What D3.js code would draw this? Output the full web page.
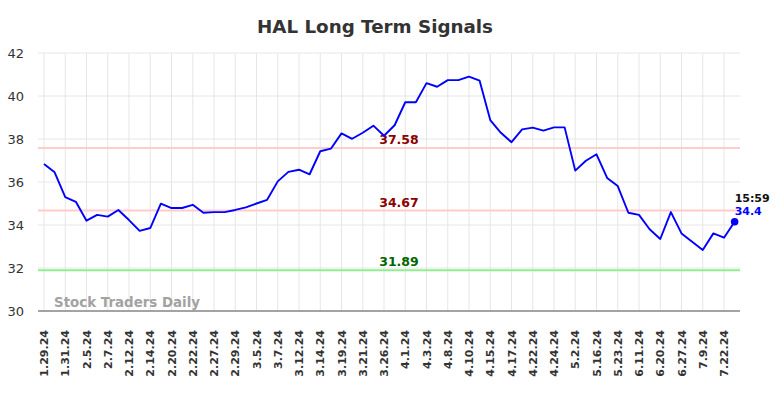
<!DOCTYPE html>
<html>
<head>
<meta charset="utf-8">
<script src="https://cdn.jsdelivr.net/npm/d3@7.9.0/dist/d3.min.js"></script>
<style>
  body { margin: 0; background: #fff; }
  svg { display: block; font-family: "DejaVu Sans", sans-serif; }
</style>
</head>
<body>
<div id="chart"></div>
<script>
// ---------- DATA ----------
const tickLabels = ["1.29.24","1.31.24","2.5.24","2.7.24","2.12.24","2.14.24","2.20.24","2.22.24",
  "2.27.24","2.29.24","3.5.24","3.7.24","3.12.24","3.14.24","3.19.24","3.21.24","3.26.24",
  "4.1.24","4.3.24","4.8.24","4.10.24","4.15.24","4.17.24","4.22.24","4.24.24","5.2.24",
  "5.16.24","5.23.24","6.11.24","6.20.24","6.27.24","7.9.24","7.22.24"];

const prices = [36.84, 36.45, 35.30, 35.08, 34.20, 34.47, 34.39, 34.70, 34.23, 33.73,
  33.86, 34.99, 34.79, 34.79, 34.94, 34.57, 34.60, 34.60, 34.70, 34.82,
  35.00, 35.17, 36.03, 36.47, 36.57, 36.36, 37.43, 37.55, 38.26, 38.01,
  38.29, 38.62, 38.15, 38.64, 39.71, 39.71, 40.60, 40.43, 40.74, 40.74,
  40.90, 40.71, 38.88, 38.29, 37.85, 38.45, 38.53, 38.39, 38.54, 38.54,
  36.53, 36.99, 37.29, 36.19, 35.81, 34.57, 34.47, 33.80, 33.35, 34.60,
  33.61, 33.22, 32.84, 33.61, 33.41, 34.15];

const levels = [
  { value: 37.58, line: "#ffcccc", text: "#8b0000" },
  { value: 34.67, line: "#ffcccc", text: "#8b0000" },
  { value: 31.89, line: "#90ee90", text: "#006400" }
];

const yTicks = [30, 32, 34, 36, 38, 40, 42];
const lastTime = "15:59";
const lastLabel = "34.4";

// ---------- LAYOUT ----------
const width = 784, height = 398;
const plotLeft = 38, plotRight = 740, plotTop = 53, plotBottom = 311;

const svg = d3.select("#chart").append("svg")
  .attr("width", width)
  .attr("height", height);

const x = d3.scaleLinear()
  .domain([0, prices.length - 1])
  .range([44, 44 + (prices.length - 1) * 10.625]);

const y = d3.scaleLinear()
  .domain([30, 42])
  .range([plotBottom, plotTop]);

// GRID
svg.append("g").selectAll("line")
  .data(yTicks)
  .join("line")
  .attr("x1", plotLeft).attr("x2", plotRight)
  .attr("y1", d => y(d)).attr("y2", d => y(d))
  .attr("stroke", "#e6e6e6").attr("stroke-width", 1);

svg.append("g").selectAll("line")
  .data(tickLabels)
  .join("line")
  .attr("x1", (d, i) => x(i * 2)).attr("x2", (d, i) => x(i * 2))
  .attr("y1", plotTop).attr("y2", plotBottom)
  .attr("stroke", "#e6e6e6").attr("stroke-width", 1);

// Y AXIS LABELS
svg.append("g").selectAll("text")
  .data(yTicks)
  .join("text")
  .attr("x", 24)
  .attr("y", d => y(d) + 4.5)
  .attr("text-anchor", "end")
  .attr("font-size", 13)
  .attr("fill", "#333")
  .text(d => d);

// X AXIS LABELS
svg.append("g").selectAll("text")
  .data(tickLabels)
  .join("text")
  .attr("transform", (d, i) => `translate(${x(i * 2) + 4},${plotBottom + 19}) rotate(-90)`)
  .attr("text-anchor", "end")
  .attr("font-size", 11)
  .attr("font-weight", "bold")
  .attr("fill", "#333")
  .text(d => d);

// LEVEL LINES
svg.append("g").selectAll("line")
  .data(levels)
  .join("line")
  .attr("x1", plotLeft).attr("x2", plotRight)
  .attr("y1", d => y(d.value)).attr("y2", d => y(d.value))
  .attr("stroke", d => d.line).attr("stroke-width", 2);

svg.append("g").selectAll("text")
  .data(levels)
  .join("text")
  .attr("x", 399)
  .attr("y", d => y(d.value) - 4)
  .attr("text-anchor", "middle")
  .attr("font-size", 12.5)
  .attr("font-weight", "bold")
  .attr("fill", d => d.text)
  .text(d => d.value.toFixed(2));

// AXIS BASELINE
svg.append("line")
  .attr("x1", plotLeft).attr("x2", plotRight)
  .attr("y1", plotBottom).attr("y2", plotBottom)
  .attr("stroke", "#555").attr("stroke-width", 1);

// WATERMARK
svg.append("text")
  .attr("x", 54).attr("y", 307)
  .attr("font-size", 13.4)
  .attr("font-weight", "bold")
  .attr("fill", "#999")
  .attr("opacity", 0.9)
  .text("Stock Traders Daily");

// PRICE LINE
svg.append("path")
  .datum(prices)
  .attr("fill", "none")
  .attr("stroke", "#0000ff")
  .attr("stroke-width", 1.9)
  .attr("stroke-linejoin", "round")
  .attr("d", d3.line().x((d, i) => x(i)).y(d => y(d)));

const lastIdx = prices.length - 1;
svg.append("circle")
  .attr("cx", x(lastIdx)).attr("cy", y(prices[lastIdx]))
  .attr("r", 3.8)
  .attr("fill", "#0000ff");

svg.append("text")
  .attr("x", x(lastIdx)).attr("y", y(prices[lastIdx]) - 20)
  .attr("font-size", 11)
  .attr("font-weight", "bold")
  .attr("fill", "#111")
  .text(lastTime);

svg.append("text")
  .attr("x", x(lastIdx)).attr("y", y(prices[lastIdx]) - 7)
  .attr("font-size", 11)
  .attr("font-weight", "bold")
  .attr("fill", "#0000ff")
  .text(lastLabel);

// TITLE
svg.append("text")
  .attr("x", 375).attr("y", 33)
  .attr("text-anchor", "middle")
  .attr("font-size", 18.3)
  .attr("font-weight", "bold")
  .attr("fill", "#333")
  .text("HAL Long Term Signals");
</script>
</body>
</html>
